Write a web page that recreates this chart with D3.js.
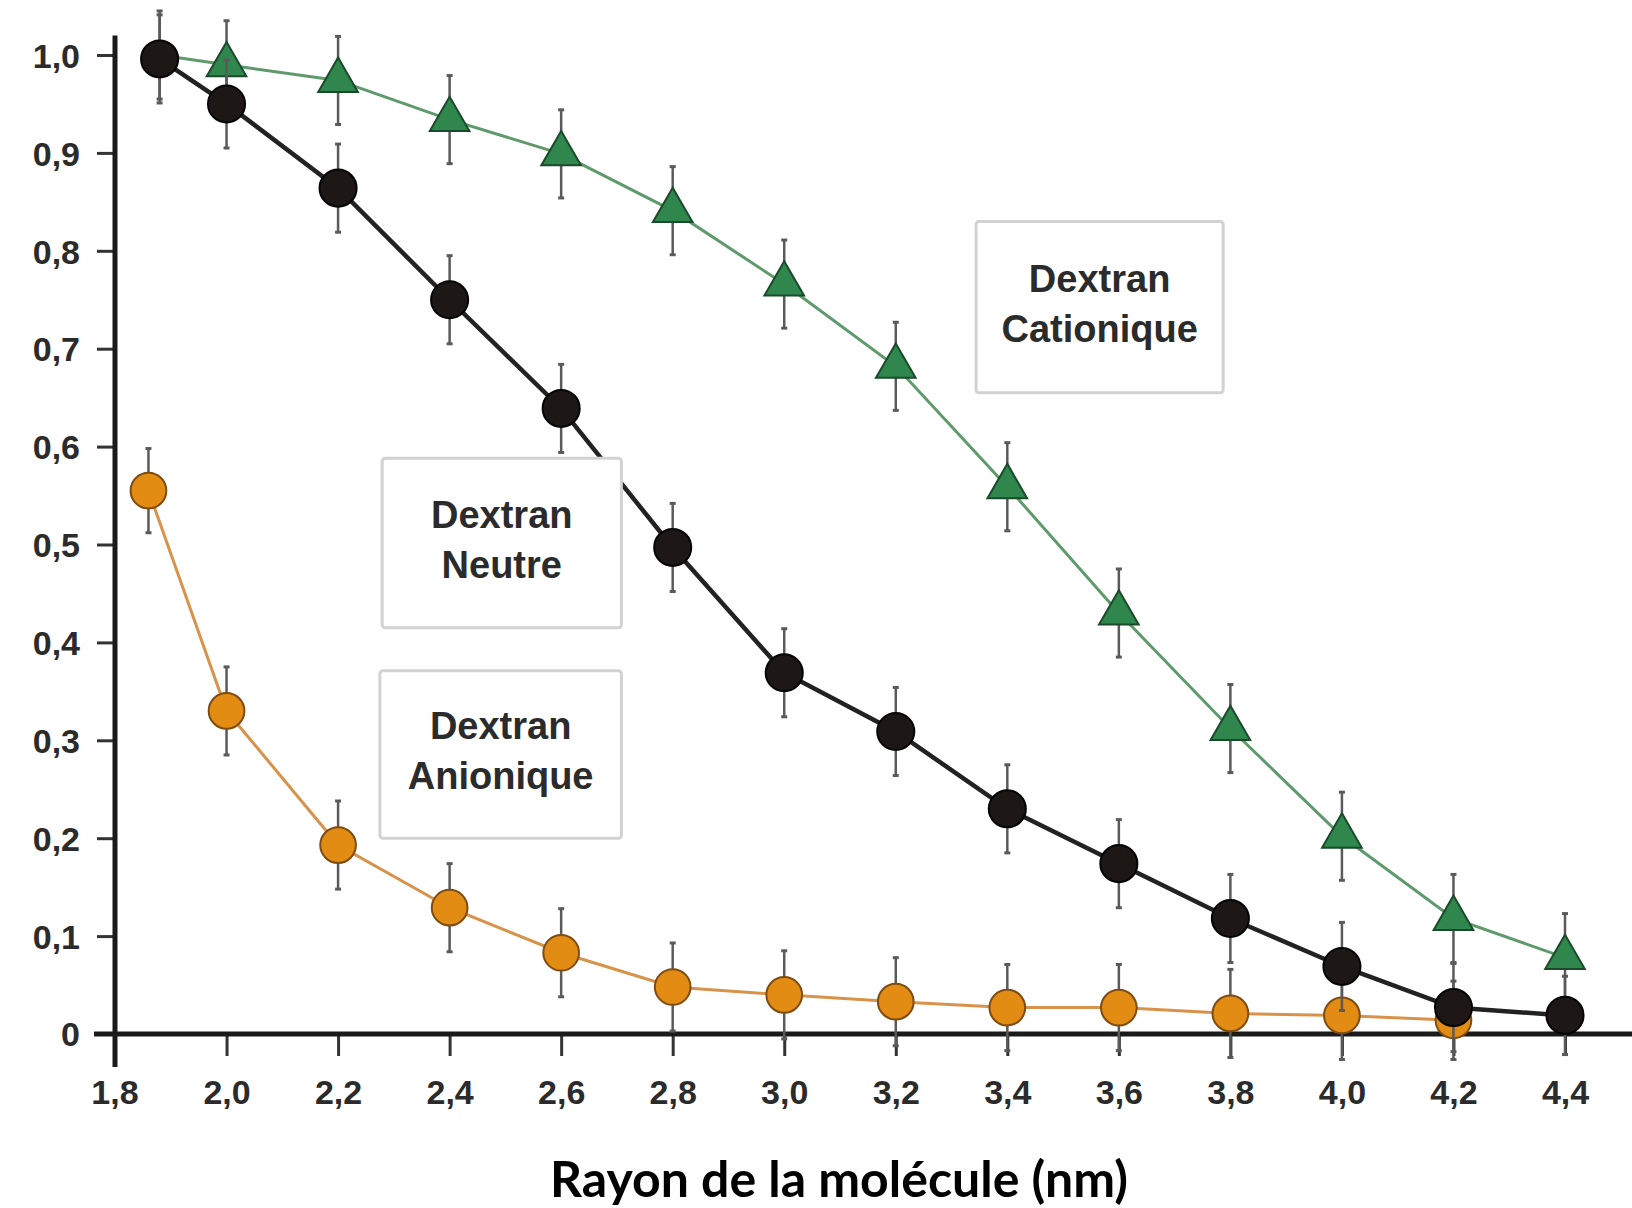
<!DOCTYPE html>
<meta charset="utf-8">
<style>
body { margin: 0; background: #fff; }
svg { display: block; }
.tick-label, .box-label {
  font-family: "Liberation Sans", Arial, sans-serif;
  font-weight: bold;
  fill: #2b2b2b;
}
.axis-title {
  font-family: Lato, "Open Sans", sans-serif;
  font-weight: bold;
  fill: #000;
}
</style>

<svg id="chart" width="1632" height="1208"></svg>

<script src="https://cdn.jsdelivr.net/npm/d3@7"></script>
<script>
// values
var xTicks = [1.8, 2.0, 2.2, 2.4, 2.6, 2.8, 3.0, 3.2, 3.4, 3.6, 3.8, 4.0, 4.2, 4.4];
var yTicks = [0, 0.1, 0.2, 0.3, 0.4, 0.5, 0.6, 0.7, 0.8, 0.9, 1.0];

var cationX   = [1.88, 2.0, 2.2, 2.4, 2.6, 2.8, 3.0, 3.2, 3.4, 3.6, 3.8, 4.0, 4.2, 4.4];
var cationY   = [1.0, 0.99, 0.974, 0.934, 0.899, 0.841, 0.766, 0.682, 0.559, 0.43, 0.312, 0.202, 0.118, 0.078];
var cationErr = [0.045, 0.045, 0.045, 0.045, 0.045, 0.045, 0.045, 0.045, 0.045, 0.045, 0.045, 0.045, 0.045, 0.045];

var neutreX   = [1.88, 2.0, 2.2, 2.4, 2.6, 2.8, 3.0, 3.2, 3.4, 3.6, 3.8, 4.0, 4.2, 4.4];
var neutreY   = [0.996, 0.95, 0.864, 0.75, 0.639, 0.497, 0.369, 0.309, 0.23, 0.174, 0.118, 0.069, 0.027, 0.019];
var neutreErr = [0.045, 0.045, 0.045, 0.045, 0.045, 0.045, 0.045, 0.045, 0.045, 0.045, 0.045, 0.045, 0.045, 0.04];

var anionX    = [1.86, 2.0, 2.2, 2.4, 2.6, 2.8, 3.0, 3.2, 3.4, 3.6, 3.8, 4.0, 4.2];
var anionY    = [0.555, 0.33, 0.193, 0.129, 0.083, 0.048, 0.04, 0.033, 0.027, 0.027, 0.021, 0.019, 0.014];
var anionErr  = [0.043, 0.045, 0.045, 0.045, 0.045, 0.045, 0.045, 0.045, 0.044, 0.044, 0.045, 0.045, 0.04];

// label boxes, in data units
var boxes = [
  {lines: ["Dextran", "Cationique"], x0: 3.344, x1: 3.787, y0: 0.83,  y1: 0.655},
  {lines: ["Dextran", "Neutre"],     x0: 2.279, x1: 2.708, y0: 0.588, y1: 0.415},
  {lines: ["Dextran", "Anionique"],  x0: 2.275, x1: 2.708, y0: 0.371, y1: 0.2}
];

var svg = d3.select("#chart");

var x = d3.scaleLinear().domain([1.8, 4.4]).range([115, 1565]);
var y = d3.scaleLinear().domain([0, 1]).range([1034, 55]);

var fmt = function(d) { return d === 0 ? "0" : d3.format(".1f")(d).replace(".", ","); };

// y axis
var yAxis = svg.append("g")
    .attr("transform", "translate(" + x(1.8) + ",0)")
    .call(d3.axisLeft(y).tickValues(yTicks.slice(1)).tickSize(18).tickSizeOuter(0).tickFormat(fmt));
yAxis.select(".domain").remove();
yAxis.selectAll(".tick line").attr("stroke", "#333").attr("stroke-width", 3);
yAxis.selectAll(".tick text").attr("class", "tick-label")
    .style("font-size", "34px").attr("x", -35).attr("dy", "0.36em");
yAxis.attr("font-size", null).attr("font-family", null);

// "0" label of y axis (the x axis stub acts as its tick)
svg.append("text").attr("class", "tick-label")
    .attr("x", x(1.8) - 35).attr("y", y(0)).attr("dy", "0.36em")
    .attr("text-anchor", "end").style("font-size", "34px").text(fmt(yTicks[0]));

// x axis
var xAxis = svg.append("g")
    .attr("transform", "translate(0," + y(0) + ")")
    .call(d3.axisBottom(x).tickValues(xTicks.slice(1)).tickSize(22).tickSizeOuter(0).tickFormat(fmt));
xAxis.select(".domain").remove();
xAxis.selectAll(".tick line").attr("stroke", "#333").attr("stroke-width", 3);
xAxis.selectAll(".tick text").attr("class", "tick-label")
    .style("font-size", "34px").attr("y", 46).attr("dy", "0.71em");
xAxis.attr("font-size", null).attr("font-family", null);

svg.append("text").attr("class", "tick-label")
    .attr("x", x(1.8)).attr("y", y(0) + 46).attr("dy", "0.71em")
    .attr("text-anchor", "middle").style("font-size", "34px").text(fmt(xTicks[0]));

// axis lines
svg.append("line")
    .attr("x1", x(1.8)).attr("x2", x(1.8))
    .attr("y1", y(1.02)).attr("y2", y(0) + 33)
    .attr("stroke", "#1a1a1a").attr("stroke-width", 5);
svg.append("line")
    .attr("x1", x(1.8) - 21).attr("x2", 1632)
    .attr("y1", y(0)).attr("y2", y(0))
    .attr("stroke", "#1a1a1a").attr("stroke-width", 5);

svg.append("text").attr("class", "axis-title")
    .attr("x", 839).attr("y", 1197)
    .attr("text-anchor", "middle")
    .style("font-size", "50px")
    .text("Rayon de la molécule (nm)");

function drawSeries(xs, ys, errs, opt) {
  var pts = xs.map(function(d, i) { return {x: d, y: ys[i], e: errs[i]}; });
  var g = svg.append("g");

  g.append("path")
    .datum(pts)
    .attr("fill", "none")
    .attr("stroke", opt.line)
    .attr("stroke-width", opt.lineWidth)
    .attr("d", d3.line().x(function(d) { return x(d.x); }).y(function(d) { return y(d.y); }));

  var eb = g.selectAll(".err").data(pts).enter().append("g");
  eb.append("line")
    .attr("x1", function(d) { return x(d.x); }).attr("x2", function(d) { return x(d.x); })
    .attr("y1", function(d) { return y(d.y + d.e); }).attr("y2", function(d) { return y(d.y - d.e); })
    .attr("stroke", "#5a5a5a").attr("stroke-width", 2.5);
  [1, -1].forEach(function(s) {
    eb.append("line")
      .attr("x1", function(d) { return x(d.x) - 3; }).attr("x2", function(d) { return x(d.x) + 3; })
      .attr("y1", function(d) { return y(d.y + s * d.e); }).attr("y2", function(d) { return y(d.y + s * d.e); })
      .attr("stroke", "#5a5a5a").attr("stroke-width", 3);
  });

  // first cationic marker sits under the neutral one and is not visible
  g.selectAll(".mark").data(pts.slice(opt.skip || 0)).enter().append("path")
    .attr("transform", function(d) { return "translate(" + x(d.x) + "," + y(d.y) + ")"; })
    .attr("d", d3.symbol().type(opt.symbol).size(opt.size))
    .attr("fill", opt.fill)
    .attr("stroke", opt.stroke)
    .attr("stroke-width", 2);
}

drawSeries(anionX, anionY, anionErr,
  {line: "#d8924a", lineWidth: 3, symbol: d3.symbolCircle, size: 1000, fill: "#e28c14", stroke: "#7e4c10"});
drawSeries(cationX, cationY, cationErr,
  {line: "#5f9a6c", lineWidth: 3, symbol: d3.symbolTriangle, size: 680, fill: "#2f874d", stroke: "#1b4a2a", skip: 1});
drawSeries(neutreX, neutreY, neutreErr,
  {line: "#222", lineWidth: 4.5, symbol: d3.symbolCircle, size: 1080, fill: "#1d1715", stroke: "#050505"});

// label boxes
var bx = svg.selectAll(".box").data(boxes).enter().append("g");
bx.append("rect")
  .attr("x", function(d) { return x(d.x0); })
  .attr("y", function(d) { return y(d.y0); })
  .attr("width", function(d) { return x(d.x1) - x(d.x0); })
  .attr("height", function(d) { return y(d.y1) - y(d.y0); })
  .attr("rx", 3)
  .attr("fill", "#fff")
  .attr("stroke", "#d2d2d2")
  .attr("stroke-width", 3);
bx.each(function(d) {
  var cx = (x(d.x0) + x(d.x1)) / 2, cy = (y(d.y0) + y(d.y1)) / 2 - 4;
  d3.select(this).selectAll("text").data(d.lines).enter().append("text")
    .attr("class", "box-label")
    .attr("x", cx)
    .attr("y", function(t, i) { return cy + (i - 0.5) * 50; })
    .attr("dy", "0.36em")
    .attr("text-anchor", "middle")
    .style("font-size", "38px")
    .text(function(t) { return t; });
});
</script>
